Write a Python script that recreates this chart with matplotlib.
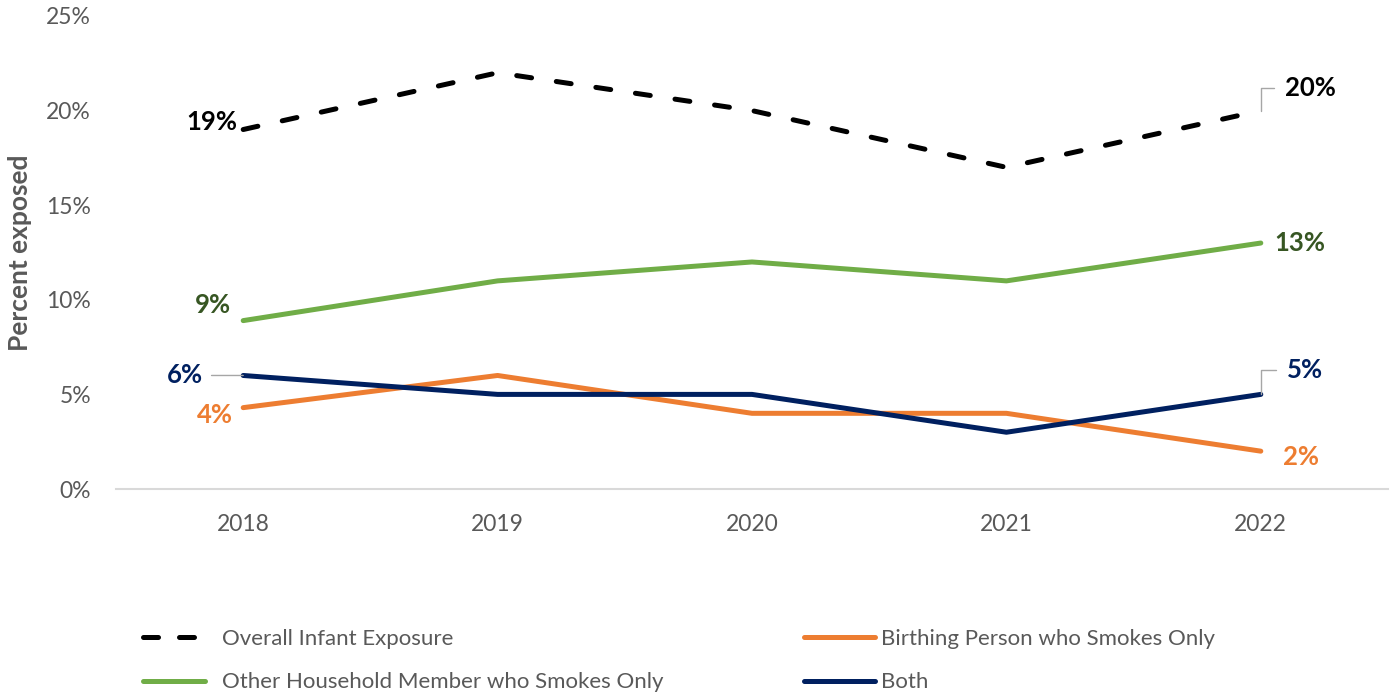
import matplotlib
matplotlib.use("Agg")
import matplotlib.pyplot as plt
from matplotlib.lines import Line2D
from matplotlib.ticker import PercentFormatter

plt.rcParams['font.family'] = ['Lato', 'DejaVu Sans']

years = ["2018", "2019", "2020", "2021", "2022"]
overall = [19, 22, 20, 17, 20]
birthing_only = [4.3, 6, 4, 4, 2]
household_only = [8.9, 11, 12, 11, 13]
both = [6, 5, 5, 3, 5]

GREY_TXT = "#595959"
BLACK = "#000000"
ORANGE = "#ED7D31"
GREEN = "#70AD47"
GREEN_DARK = "#375623"
NAVY = "#002060"
LEADER = "#A6A6A6"

fig = plt.figure(figsize=(13.94, 6.96), dpi=100)
ax = fig.add_axes([116 / 1394, 1 - 489 / 696, (1388 - 116) / 1394, (489 - 16) / 696])

x = list(range(len(years)))
lw = 3.6
ax.plot(x, overall, color=BLACK, lw=lw, dashes=(3.0, 5.0),
        dash_capstyle="round", solid_capstyle="round")
ax.plot(x, birthing_only, color=ORANGE, lw=lw, solid_capstyle="round")
ax.plot(x, household_only, color=GREEN, lw=lw, solid_capstyle="round")
ax.plot(x, both, color=NAVY, lw=lw, solid_capstyle="round")

ax.set_xlim(-0.5, len(years) - 0.5)
ax.set_ylim(0, 25)
ax.set_yticks([0, 5, 10, 15, 20, 25])
ax.yaxis.set_major_formatter(PercentFormatter(decimals=0))
ax.set_xticks(x)
ax.set_xticklabels(years)
ax.tick_params(axis="both", length=0, labelsize=16.5, colors=GREY_TXT)
ax.tick_params(axis="x", pad=18)
ax.tick_params(axis="y", pad=18)
for side in ("top", "right", "left"):
    ax.spines[side].set_visible(False)
ax.spines["bottom"].set_color("#D9D9D9")
ax.spines["bottom"].set_linewidth(1.5)
ax.set_ylabel("Percent exposed", fontsize=19, fontweight="bold", color=GREY_TXT, labelpad=10)


def pct(v):
    return f"{v:.0f}%"


lab = dict(fontsize=18.5, fontweight="bold", textcoords="offset pixels", va="center")
last = len(years) - 1

# first-year labels
ax.annotate(pct(overall[0]), (0, overall[0]), xytext=(-6, 8), ha="right", color=BLACK, **lab)
ax.annotate(pct(household_only[0]), (0, household_only[0]), xytext=(-12, 16), ha="right",
            color=GREEN_DARK, **lab)
ax.annotate(pct(both[0]), (0, both[0]), xytext=(-40, 0), ha="right", color=NAVY,
            arrowprops=dict(arrowstyle="-", color=LEADER, lw=1, shrinkA=4, shrinkB=0), **lab)
ax.annotate(pct(birthing_only[0]), (0, birthing_only[0]), xytext=(-10, -7), ha="right",
            color=ORANGE, **lab)

# last-year labels
ax.annotate(pct(overall[last]), (last, overall[last]), xytext=(24, 23), ha="left", color=BLACK,
            arrowprops=dict(arrowstyle="-", color=LEADER, lw=1, shrinkA=6, shrinkB=0,
                            connectionstyle="angle,angleA=0,angleB=90,rad=0"), **lab)
ax.annotate(pct(household_only[last]), (last, household_only[last]), xytext=(14, 0), ha="left",
            color=GREEN_DARK, **lab)
ax.annotate(pct(both[last]), (last, both[last]), xytext=(26, 24), ha="left", color=NAVY,
            arrowprops=dict(arrowstyle="-", color=LEADER, lw=1, shrinkA=6, shrinkB=0,
                            connectionstyle="angle,angleA=0,angleB=90,rad=0"), **lab)
ax.annotate(pct(birthing_only[last]), (last, birthing_only[last]), xytext=(22, -6), ha="left",
            color=ORANGE, **lab)

handles = {
    "Overall Infant Exposure": Line2D([], [], color=BLACK, lw=lw, dashes=(3.0, 4.2),
                                      dash_capstyle="round"),
    "Birthing Person who Smokes Only": Line2D([], [], color=ORANGE, lw=lw, solid_capstyle="round"),
    "Other Household Member who Smokes Only": Line2D([], [], color=GREEN, lw=lw,
                                                     solid_capstyle="round"),
    "Both": Line2D([], [], color=NAVY, lw=lw, solid_capstyle="round"),
}

leg_kw = dict(loc="upper left", frameon=False, fontsize=16, labelspacing=1.05,
              labelcolor=GREY_TXT, borderpad=0, borderaxespad=0)
left_names = ["Overall Infant Exposure", "Other Household Member who Smokes Only"]
right_names = ["Birthing Person who Smokes Only", "Both"]
fig.legend([handles[n] for n in left_names], left_names, handlelength=2.8, handletextpad=0.75,
           bbox_to_anchor=(143 / 1394, 1 - 629 / 696), **leg_kw)
fig.legend([handles[n] for n in right_names], right_names, handlelength=3.2, handletextpad=0.25,
           bbox_to_anchor=(804 / 1394, 1 - 629 / 696), **leg_kw)

fig.savefig("out.png", dpi=100)
